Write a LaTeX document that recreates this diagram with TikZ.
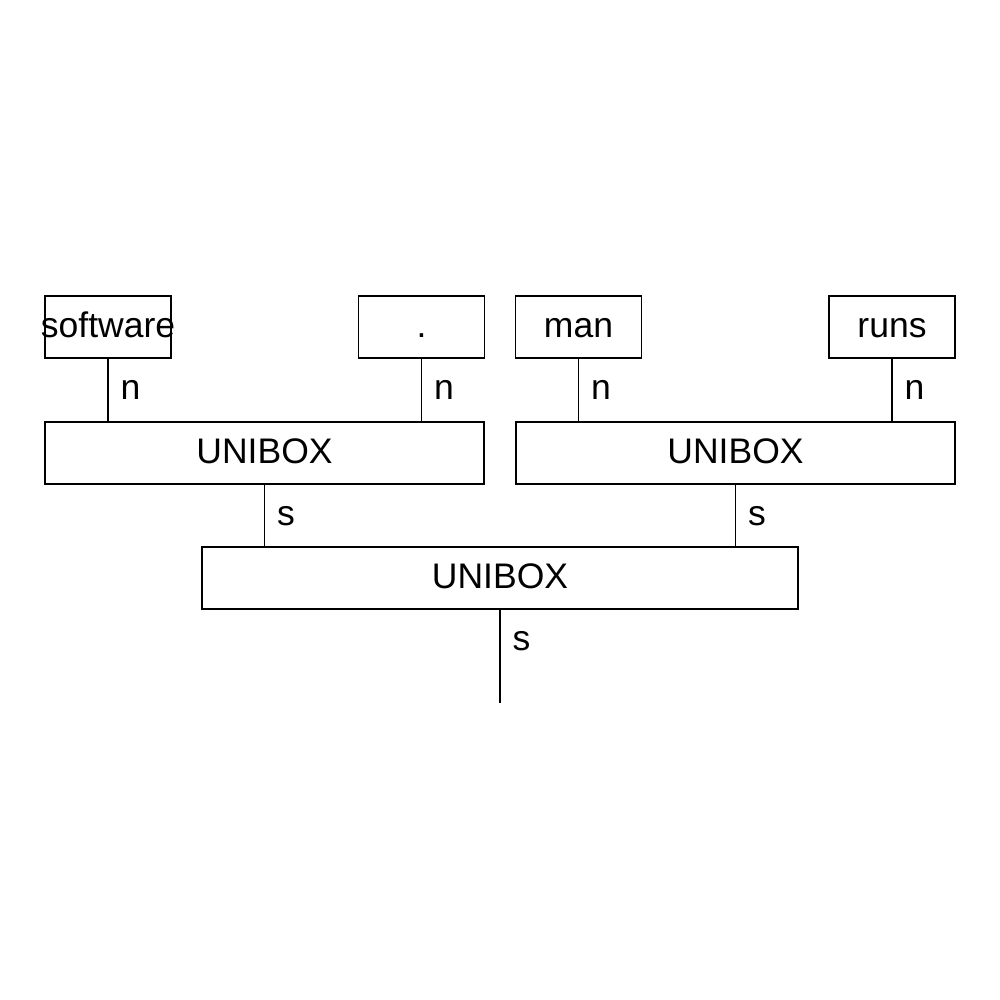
\documentclass[tikz,border=0pt]{standalone}
\usepackage{fontspec}
\setmainfont{Liberation Sans}
\begin{document}
\begin{tikzpicture}[x=0.01cm,y=-0.01cm,
  box/.style={draw,line width=0.4pt,inner sep=0pt,text height=0.75em,text depth=0.15em,font=\fontsize{10.1}{12}\selectfont},
  leaf/.style={box,minimum width=1.26cm,minimum height=0.62cm},
  ubox/.style={box,minimum width=4.39cm,minimum height=0.62cm},
  wide/.style={box,minimum width=5.96cm,minimum height=0.62cm},
  conn/.style={line width=0.4pt},
  lab/.style={anchor=west,inner sep=0pt,text height=0.75em,text depth=0.15em,xshift=0.12cm,yshift=-0.3cm,font=\fontsize{10.1}{12}\selectfont}]
\useasboundingbox (0,0) rectangle (1000,1000);
\node[leaf] (sw) at (108,327) {\makebox[0pt][c]{software}};
\node[leaf] (dot) at (421.5,327) {.};
\node[leaf] (man) at (578.5,327) {man};
\node[leaf] (runs) at (892,327) {runs};
\node[ubox] (u1) at (264.5,453) {UNIBOX};
\node[ubox] (u2) at (735.5,453) {UNIBOX};
\node[wide] (u3) at (500,578) {UNIBOX};
\coordinate (end) at (500,703);
\draw[conn] (sw.south) node[lab]{n} -- (sw.south |- u1.north);
\draw[conn] (dot.south) node[lab]{n} -- (dot.south |- u1.north);
\draw[conn] (man.south) node[lab]{n} -- (man.south |- u2.north);
\draw[conn] (runs.south) node[lab]{n} -- (runs.south |- u2.north);
\draw[conn] (u1.south) node[lab]{s} -- (u1.south |- u3.north);
\draw[conn] (u2.south) node[lab]{s} -- (u2.south |- u3.north);
\draw[conn] (u3.south) node[lab]{s} -- (end);
\end{tikzpicture}
\end{document}
